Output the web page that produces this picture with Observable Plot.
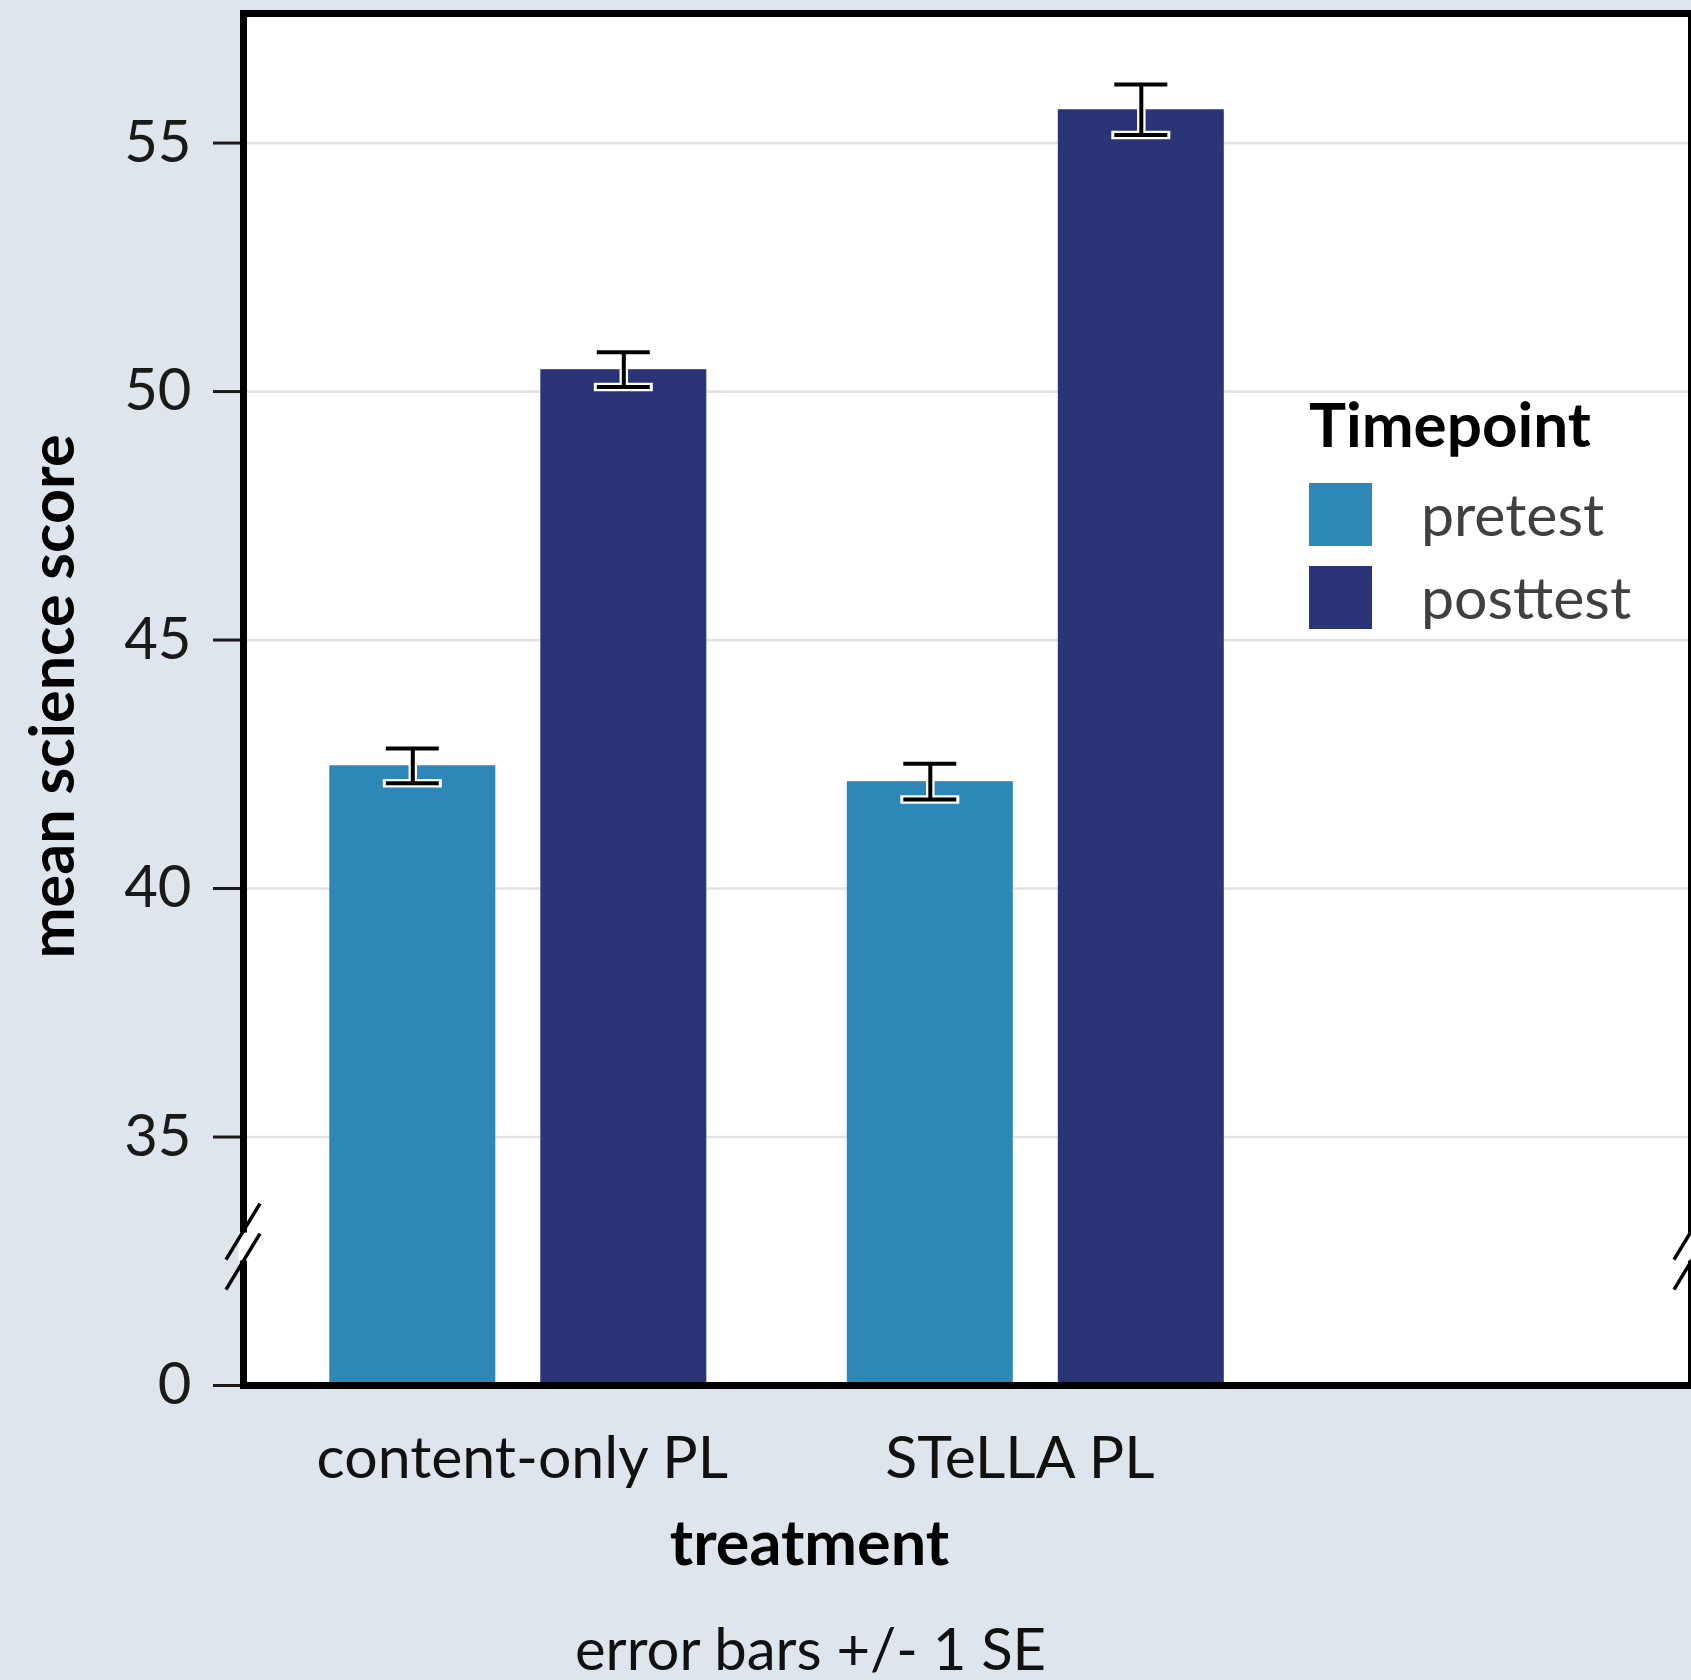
<!DOCTYPE html>
<html>
<head>
<meta charset="utf-8">
<script src="https://cdn.jsdelivr.net/npm/d3@7"></script>
<script src="https://cdn.jsdelivr.net/npm/@observablehq/plot@0.6"></script>
<style>
  html, body { margin: 0; padding: 0; background: #dfe5ed; overflow: hidden; }
  #wrap { position: relative; width: 1691px; height: 1680px; font-family: Lato, "Noto Sans", sans-serif; }
  #legend { position: absolute; left: 1309px; top: 380px; }
  #legend .title { position: absolute; left: 0; top: 0; font-weight: bold; font-size: 62px; color: #000; white-space: nowrap; line-height: 1; }
  #legend .row { position: absolute; left: 0; white-space: nowrap; }
  #legend .sw { position: absolute; left: 0; top: 0; width: 63px; height: 63px; }
  #legend .lab { position: absolute; left: 112px; font-size: 59px; color: #404040; line-height: 1; }
</style>
</head>
<body>
<div id="wrap"></div>
<script>
// ---- data ----
const treatments = ["content-only PL", "STeLLA PL"];
const timepoints = ["pretest", "posttest"];
const pretestMeans = [42.47, 42.15];
const posttestMeans = [50.44, 55.67];
const pretestSE = [0.35, 0.36];
const posttestSE = [0.35, 0.51];
const yTicks = [0, 35, 40, 45, 50, 55];
const gridTicks = [35, 40, 45, 50, 55];
const colors = ["#2d87b7", "#2a3476"];
const breakFrom = 35;      // axis is broken below this value
const axisBreakAt = 19.5;  // where the break marks sit
const xLabel = "treatment";
const yLabel = "mean science score";
const caption = "error bars +/- 1 SE";
const legendTitle = "Timepoint";

const rows = [];
treatments.forEach((t, i) => {
  rows.push({treatment: t, timepoint: "pretest", mean: pretestMeans[i], se: pretestSE[i]});
  rows.push({treatment: t, timepoint: "posttest", mean: posttestMeans[i], se: posttestSE[i]});
});

// broken axis: the 0..35 segment is compressed into one tick step
const yTransform = v => v < breakFrom ? (breakFrom - 5) + v * 5 / breakFrom : v;

const W = 1691, H = 1680;
const FS = 58;

function seriesMarks(tp, side) {
  const d = rows.filter(r => r.timepoint === tp);
  const bandInset = side < 0 ? {insetRight: 211} : {insetLeft: 211};
  const capIn = side < 0 ? [56.5, 267.5] : [267.5, 56.5];
  const off = side * 105.5;
  return [
    Plot.barY(d, {x: "treatment", y: "mean", fill: "timepoint", ...bandInset}),
    Plot.ruleX(d, {x: "treatment", y1: r => r.mean - r.se, y2: r => r.mean + r.se, dx: off, stroke: "white", strokeWidth: 8.5}),
    Plot.tickY(d, {x: "treatment", y: r => r.mean - r.se, stroke: "white", strokeWidth: 8.5, insetLeft: capIn[0] - 3, insetRight: capIn[1] - 3}),
    Plot.tickY(d, {x: "treatment", y: r => r.mean + r.se, stroke: "white", strokeWidth: 8.5, insetLeft: capIn[0] - 3, insetRight: capIn[1] - 3}),
    Plot.ruleX(d, {x: "treatment", y1: r => r.mean - r.se, y2: r => r.mean + r.se, dx: off, stroke: "black", strokeWidth: 4}),
    Plot.tickY(d, {x: "treatment", y: r => r.mean - r.se, stroke: "black", strokeWidth: 4, insetLeft: capIn[0], insetRight: capIn[1]}),
    Plot.tickY(d, {x: "treatment", y: r => r.mean + r.se, stroke: "black", strokeWidth: 4, insetLeft: capIn[0], insetRight: capIn[1]})
  ];
}

function axisBreak(index, scales, values, dims) {
  const ns = "http://www.w3.org/2000/svg";
  const g = document.createElementNS(ns, "g");
  const bottom = dims.height - dims.marginBottom;
  const includesTransform = Math.abs(scales.y(0) - bottom) < 2;
  const cy = includesTransform ? scales.y(axisBreakAt) : scales.y(yTransform(axisBreakAt));
  const edges = [dims.marginLeft, dims.width - dims.marginRight];
  const line = (x1, y1, x2, y2, stroke, sw) => {
    const l = document.createElementNS(ns, "line");
    l.setAttribute("x1", x1); l.setAttribute("y1", y1);
    l.setAttribute("x2", x2); l.setAttribute("y2", y2);
    l.setAttribute("stroke", stroke); l.setAttribute("stroke-width", sw);
    g.appendChild(l);
  };
  for (const x of edges) {
    line(x, cy - 14, x, cy + 14, "white", 9);
    line(x - 17, cy - 15 + 28, x + 17, cy - 15 - 28, "black", 3.5);
    line(x - 17, cy + 15 + 28, x + 17, cy + 15 - 28, "black", 3.5);
  }
  return g;
}

const labelShift = {"content-only PL": 4, "STeLLA PL": -16};

const chart = Plot.plot({
  width: W,
  height: H,
  marginLeft: 243,
  marginRight: 0,
  marginTop: 13,
  marginBottom: 295,
  style: {background: "transparent", fontFamily: "Lato, 'Noto Sans', sans-serif", overflow: "visible"},
  x: {domain: treatments, range: [259.05, 1294.05], paddingInner: 0.2715, paddingOuter: 0.13575, round: false, axis: null},
  y: {domain: [30, 57.607], transform: yTransform, axis: null},
  color: {domain: timepoints, range: colors},
  marks: [
    Plot.frame({fill: "white"}),
    Plot.ruleY(gridTicks, {stroke: "#e2e3e5", strokeWidth: 2.7}),
    ...seriesMarks("pretest", -1),
    ...seriesMarks("posttest", 1),
    Plot.axisY(yTicks, {anchor: "left", tickSize: 30, tickPadding: 22, tickFormat: d => String(d), fontSize: FS, color: "#1a1a1a", strokeWidth: 3, label: null}),
    Plot.frame({stroke: "black", strokeWidth: 7}),
    axisBreak,
    ...treatments.map(t => Plot.text([t], {x: d => d, text: d => d, frameAnchor: "bottom", lineAnchor: "bottom", dy: 92, dx: labelShift[t], fontSize: 59, fill: "#111"})),
    Plot.text([xLabel], {text: d => d, frameAnchor: "bottom", lineAnchor: "bottom", dy: 179, dx: -158, fontSize: 63, fontWeight: "bold", fill: "#000"}),
    Plot.text([caption], {text: d => d, frameAnchor: "bottom", lineAnchor: "bottom", dy: 284, dx: -157, fontSize: FS, fill: "#111"}),
    Plot.text([yLabel], {text: d => d, frameAnchor: "left", textAnchor: "middle", rotate: -90, dx: -189, dy: -3, fontSize: 61, fontWeight: "bold", fill: "#000"})
  ]
});

const wrap = document.getElementById("wrap");
wrap.appendChild(chart);

// legend built from the same color scale
const colorScale = chart.scale("color");
const legend = document.createElement("div");
legend.id = "legend";
const title = document.createElement("div");
title.className = "title";
title.textContent = legendTitle;
title.style.top = "12px";
legend.appendChild(title);
timepoints.forEach((tp, i) => {
  const row = document.createElement("div");
  row.className = "row";
  row.style.top = (103 + i * 83) + "px";
  const sw = document.createElement("div");
  sw.className = "sw";
  sw.style.background = colorScale.apply(tp);
  const lab = document.createElement("div");
  lab.className = "lab";
  lab.style.top = "1px";
  lab.textContent = tp;
  row.appendChild(sw);
  row.appendChild(lab);
  legend.appendChild(row);
});
wrap.appendChild(legend);
</script>
</body>
</html>
